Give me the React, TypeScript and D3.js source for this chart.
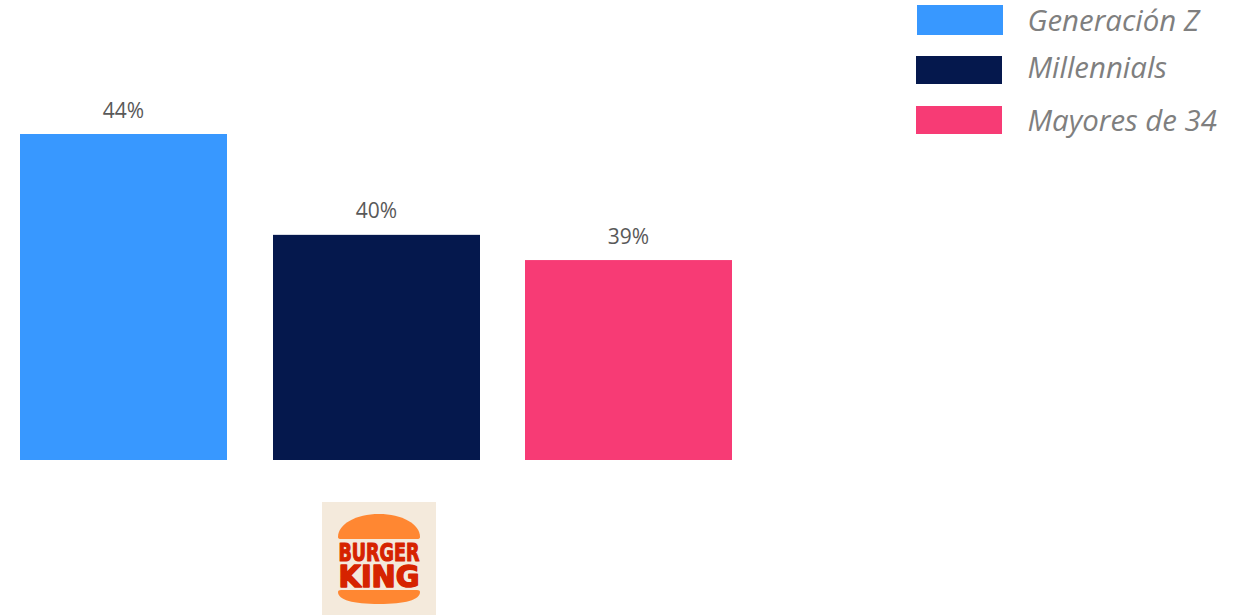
import React from "react";
import * as d3 from "d3";

const WIDTH = 1250;
const HEIGHT = 615;

const seriesNames = ["Generación Z", "Millennials", "Mayores de 34"];
const seriesValues = [44, 40, 39];
const seriesColors = ["#3898FF", "#05184D", "#F73B75"];
const legendSwatchX = [917, 916, 916];
const legendSwatchY = [5, 56, 106];
const legendSwatchH = [30, 28, 28];
const legendTextY = [31, 78, 131];

const x = d3.scaleBand<string>().domain(seriesNames).range([20, 732]).paddingInner(0.1802).paddingOuter(0);
const y = d3.scaleLinear().domain([31.07, 44]).range([460, 134]);

const FONT = "'Open Sans', sans-serif";

// Burger King badge: bun halves and two stacked words on a cream tile
function BurgerKingLogo() {
  const topBun = "M338 537 C338 524 356 514 379 514 C402 514 420 524 420 537 Q420 539 417 539 L341 539 Q338 539 338 537 Z";
  const bottomBun = "M338 592 Q338 590 341 590 L417 590 Q420 590 420 592 C420 600 405 604 379 604 C353 604 338 600 338 592 Z";
  return (
    <g>
      <rect x={322} y={502} width={114} height={113} fill="#F4EADC" />
      <path d={topBun} fill="#FF8732" />
      <path d={bottomBun} fill="#FF8732" />
      <text x={379} y={560.5} textAnchor="middle" fontFamily="'DejaVu Sans', sans-serif" fontWeight={700}
        fontSize={24} textLength={81} lengthAdjust="spacingAndGlyphs" fill="#D62300" stroke="#D62300"
        strokeWidth={1.2} strokeLinejoin="round">
        BURGER
      </text>
      <text x={379} y={586.5} textAnchor="middle" fontFamily="'DejaVu Sans', sans-serif" fontWeight={700}
        fontSize={31} textLength={81} lengthAdjust="spacingAndGlyphs" fill="#D62300" stroke="#D62300"
        strokeWidth={1.6} strokeLinejoin="round">
        KING
      </text>
    </g>
  );
}

export default function App() {
  return (
    <svg width={WIDTH} height={HEIGHT} viewBox={`0 0 ${WIDTH} ${HEIGHT}`}
      style={{ position: "absolute", left: 0, top: 0, background: "#fff" }}>
      {seriesNames.map((name, i) => {
        const left = Math.round(x(name)!);
        const top = y(seriesValues[i]);
        return (
          <g key={name}>
            <rect x={left} y={top} width={x.bandwidth()} height={y.range()[0] - top} fill={seriesColors[i]} />
            <text x={left + x.bandwidth() / 2} y={top - 16.5} textAnchor="middle"
              fontFamily={FONT} fontSize={21} fill="#595959">
              {`${seriesValues[i]}%`}
            </text>
          </g>
        );
      })}
      {seriesNames.map((name, i) => (
        <g key={`legend-${name}`}>
          <rect x={legendSwatchX[i]} y={legendSwatchY[i]} width={86} height={legendSwatchH[i]} fill={seriesColors[i]} />
          <text x={1027.5} y={legendTextY[i]} fontFamily={FONT} fontStyle="italic" fontSize={29.4} fill="#7F7F7F">
            {name}
          </text>
        </g>
      ))}
      <BurgerKingLogo />
    </svg>
  );
}
